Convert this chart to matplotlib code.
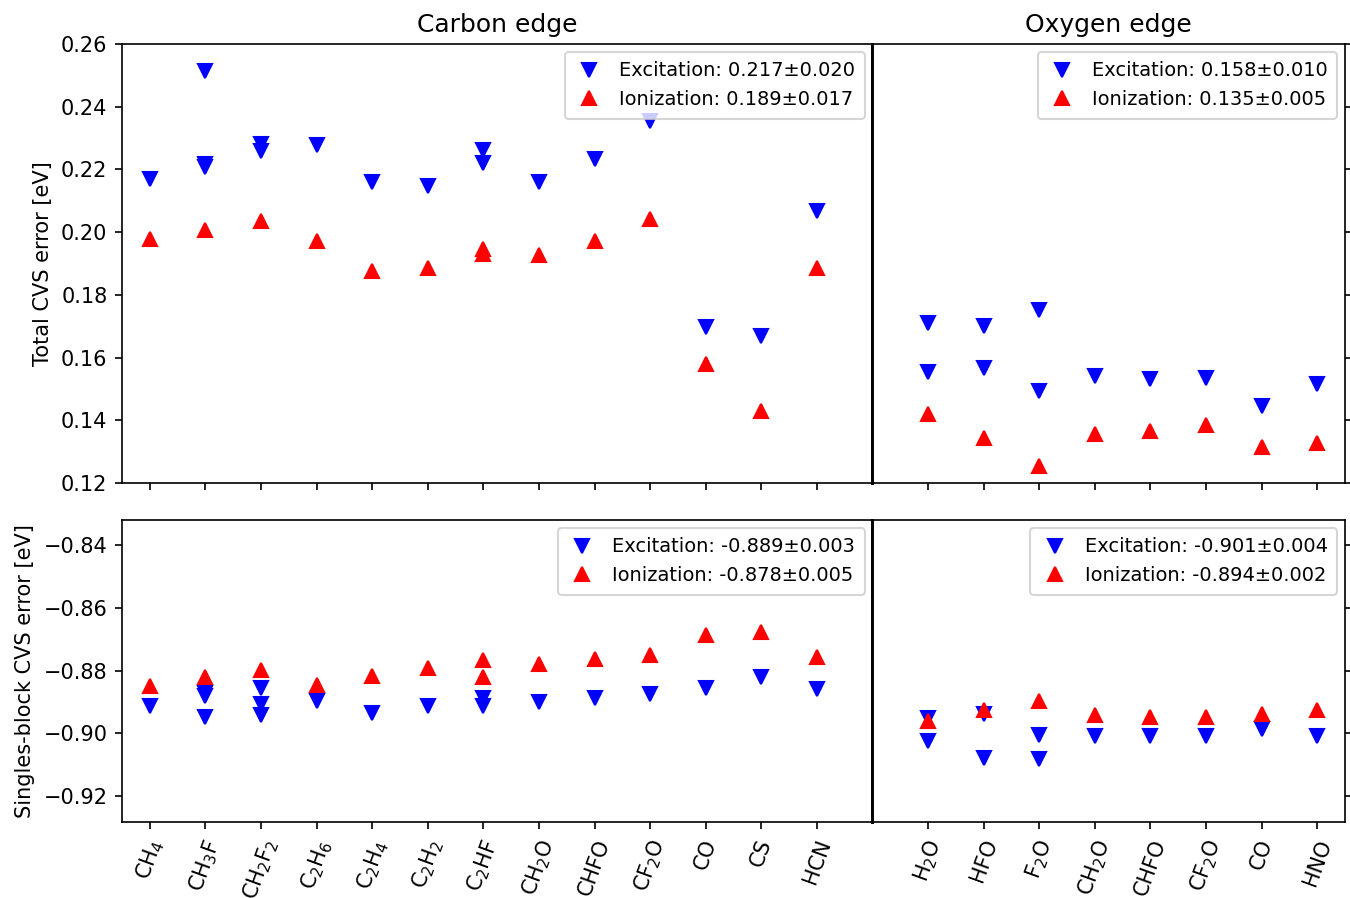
import matplotlib
matplotlib.use("Agg")
from matplotlib import pyplot as plt
from matplotlib.gridspec import GridSpec
import numpy as np

carbon_molecules = ["CH$_4$", "CH$_3$F", "CH$_2$F$_2$", "C$_2$H$_6$", "C$_2$H$_4$",
                    "C$_2$H$_2$", "C$_2$HF", "CH$_2$O", "CHFO", "CF$_2$O", "CO", "CS", "HCN"]
oxygen_molecules = ["H$_2$O", "HFO", "F$_2$O", "CH$_2$O", "CHFO", "CF$_2$O", "CO", "HNO"]

# total CVS error [eV], one list per molecule (several core excitations for some)
carbon_exc_total = [[0.2170], [0.2514, 0.2218, 0.2208], [0.2281, 0.2259], [0.2278], [0.2160],
                    [0.2147], [0.2262, 0.2220], [0.2159], [0.2232], [0.2354], [0.1697],
                    [0.1669], [0.2067]]
carbon_ion_total = [[0.1978], [0.2007], [0.2037], [0.1972], [0.1875], [0.1886],
                    [0.1946, 0.1930], [0.1926], [0.1973], [0.2043], [0.1578], [0.1430], [0.1887]]
oxygen_exc_total = [[0.1711, 0.1555], [0.1700, 0.1566], [0.1751, 0.1493], [0.1540], [0.1532],
                    [0.1535], [0.1445], [0.1515]]
oxygen_ion_total = [[0.1421], [0.1344], [0.1253], [0.1356], [0.1367], [0.1384], [0.1315], [0.1328]]

# singles-block CVS error [eV]
carbon_exc_singles = [[-0.8913], [-0.8870, -0.8880, -0.8947], [-0.8856, -0.8908, -0.8943],
                      [-0.8896], [-0.8936], [-0.8913], [-0.8888, -0.8912], [-0.8901],
                      [-0.8888], [-0.8876], [-0.8856], [-0.8822], [-0.8860]]
carbon_ion_singles = [[-0.8848], [-0.8822], [-0.8797], [-0.8846], [-0.8816], [-0.8793],
                      [-0.8766, -0.8819], [-0.8780], [-0.8762], [-0.8750], [-0.8688],
                      [-0.8678], [-0.8756]]
oxygen_exc_singles = [[-0.8951, -0.9024], [-0.8939, -0.9080], [-0.9004, -0.9081], [-0.9008],
                      [-0.9008], [-0.9009], [-0.8985], [-0.9009]]
oxygen_ion_singles = [[-0.8962], [-0.8927], [-0.8897], [-0.8942], [-0.8948], [-0.8949],
                      [-0.8938], [-0.8927]]

labels_carbon_total = ["Excitation: 0.217\u00b10.020", "Ionization: 0.189\u00b10.017"]
labels_oxygen_total = ["Excitation: 0.158\u00b10.010", "Ionization: 0.135\u00b10.005"]
labels_carbon_singles = ["Excitation: -0.889\u00b10.003", "Ionization: -0.878\u00b10.005"]
labels_oxygen_singles = ["Excitation: -0.901\u00b10.004", "Ionization: -0.894\u00b10.002"]


def flatten(groups):
    xs = [i for i, g in enumerate(groups) for _ in g]
    ys = [v for g in groups for v in g]
    return xs, ys


def draw(ax, exc, ion, labels):
    x, y = flatten(exc)
    ax.plot(x, y, "bv", ls="none", ms=6.5, label=labels[0])
    x, y = flatten(ion)
    ax.plot(x, y, "r^", ls="none", ms=6.5, label=labels[1])
    ax.legend(loc="upper right", fontsize=9.3, handlelength=1.5, borderaxespad=0.4,
              borderpad=0.5, labelspacing=0.5)


fig = plt.figure(figsize=(9, 5.9867), dpi=150)
gs = GridSpec(2, 2, figure=fig, width_ratios=[13.5, 8.5], height_ratios=[439, 302],
              left=0.0904, right=0.9963, top=0.951, bottom=0.0846, wspace=0, hspace=0.0999)
ax_ct = fig.add_subplot(gs[0, 0])
ax_ot = fig.add_subplot(gs[0, 1])
ax_cs = fig.add_subplot(gs[1, 0])
ax_os = fig.add_subplot(gs[1, 1])

draw(ax_ct, carbon_exc_total, carbon_ion_total, labels_carbon_total)
draw(ax_ot, oxygen_exc_total, oxygen_ion_total, labels_oxygen_total)
draw(ax_cs, carbon_exc_singles, carbon_ion_singles, labels_carbon_singles)
draw(ax_os, oxygen_exc_singles, oxygen_ion_singles, labels_oxygen_singles)

ax_ct.set_title("Carbon edge", fontsize=12)
ax_ot.set_title("Oxygen edge", fontsize=12)

for ax in (ax_ct, ax_cs):
    ax.set_xlim(-0.5, 13)
    ax.set_xticks(np.arange(len(carbon_molecules)))
    ax.spines["right"].set_linewidth(1.4)
for ax in (ax_ot, ax_os):
    ax.set_xlim(-1, 7.5)
    ax.set_xticks(np.arange(len(oxygen_molecules)))
    ax.yaxis.tick_right()
    ax.tick_params(axis="y", labelright=False)
    ax.spines["left"].set_linewidth(1.4)

ax_ct.set_xticklabels([])
ax_ot.set_xticklabels([])
ax_cs.set_xticklabels(carbon_molecules, rotation=70)
ax_os.set_xticklabels(oxygen_molecules, rotation=70)

for ax in (ax_ct, ax_ot):
    ax.set_ylim(0.12, 0.26)
    ax.set_yticks(np.arange(0.12, 0.261, 0.02))
for ax in (ax_cs, ax_os):
    ax.set_ylim(-0.9283, -0.832)
    ax.set_yticks(np.arange(-0.92, -0.839, 0.02))

ax_ct.set_yticklabels([f"{v:.2f}" for v in ax_ct.get_yticks()])
ax_cs.set_yticklabels([f"{v:.2f}".replace("-", "\u2212") for v in ax_cs.get_yticks()])

ax_ct.set_ylabel("Total CVS error [eV]")
ax_cs.set_ylabel("Singles-block CVS error [eV]")

fig.savefig("out.png", dpi=150)
